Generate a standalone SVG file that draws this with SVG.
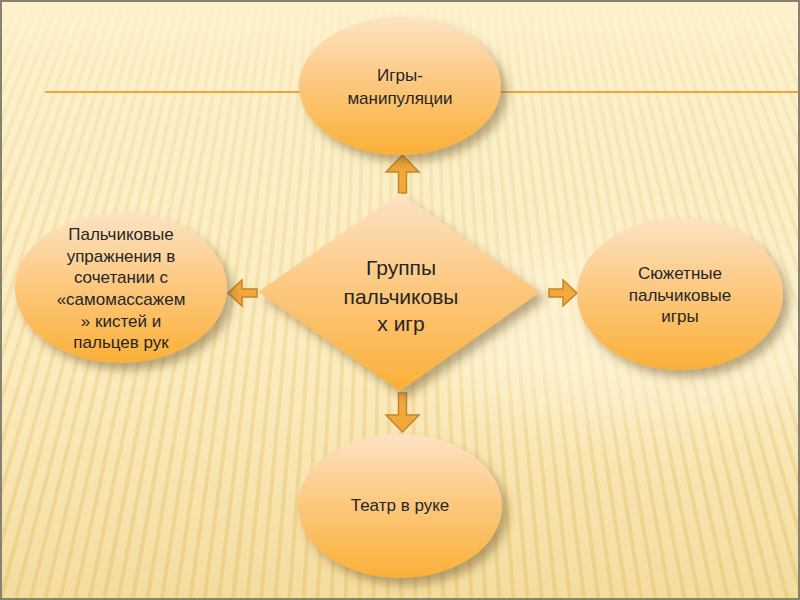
<svg xmlns="http://www.w3.org/2000/svg" width="800" height="600" viewBox="0 0 800 600">
  <defs>
    <linearGradient id="bg" x1="0" y1="0" x2="0" y2="1">
      <stop offset="0" stop-color="#fdf2cd"/>
      <stop offset="0.6" stop-color="#fbecc0"/>
      <stop offset="1" stop-color="#f4dc9e"/>
    </linearGradient>
    <linearGradient id="stripeFade" x1="0" y1="0" x2="0" y2="1">
      <stop offset="0" stop-color="#fff" stop-opacity="0"/>
      <stop offset="0.12" stop-color="#fff" stop-opacity="0.3"/>
      <stop offset="0.6" stop-color="#fff" stop-opacity="0.6"/>
      <stop offset="1" stop-color="#fff" stop-opacity="0.95"/>
    </linearGradient>
    <mask id="stripeMask" maskUnits="userSpaceOnUse" x="0" y="0" width="800" height="600">
      <rect x="0" y="0" width="800" height="600" fill="url(#stripeFade)"/>
    </mask>
    <linearGradient id="fillG" x1="0" y1="0" x2="0" y2="1">
      <stop offset="0" stop-color="#fde3c4"/>
      <stop offset="0.5" stop-color="#fcc77c"/>
      <stop offset="1" stop-color="#fbb038"/>
    </linearGradient>
    <filter id="shadow" x="-20%" y="-20%" width="150%" height="150%">
      <feDropShadow dx="6" dy="7" stdDeviation="5" flood-color="#6b5020" flood-opacity="0.45"/>
    </filter>
    <filter id="soft" x="-50%" y="-50%" width="200%" height="200%">
      <feGaussianBlur stdDeviation="30"/>
    </filter>
    <style>
      .shape { fill: url(#fillG); filter: url(#shadow); }
      .arrow { fill: #f2a83a; stroke: #c5842a; stroke-width: 1.5; stroke-linejoin: miter; }
      .t { font-family: "Liberation Sans", Arial, sans-serif; font-size: 17px; fill: #262626; text-anchor: middle; }
      .tc { font-family: "Liberation Sans", Arial, sans-serif; font-size: 21px; fill: #262626; text-anchor: middle; }
    </style>
  </defs>

  <!-- background -->
  <rect x="0" y="0" width="800" height="600" fill="url(#bg)"/>
  <g mask="url(#stripeMask)">
    <circle cx="400" cy="-900" r="1200" fill="none" stroke="#e6c575" stroke-opacity="0.55" stroke-width="760" stroke-dasharray="4 7.2"/>
  </g>
  <ellipse cx="640" cy="330" rx="220" ry="90" fill="#fff8e0" opacity="0.5" filter="url(#soft)"/>
  <line x1="45" y1="92" x2="800" y2="92" stroke="#eea63a" stroke-width="2.2"/>
  <rect x="1" y="1" width="798" height="598" fill="none" stroke="#85826f" stroke-width="2"/>

  <!-- connectors -->
  <g id="connectors">
    <path class="arrow" d="M398.5 193 V172 H386 L402.5 155 L419 172 H406.5 V193 Z"/>
    <path class="arrow" d="M398.5 393 V415 H386 L402.5 432 L419 415 H406.5 V393 Z"/>
    <path class="arrow" d="M257 289 H242 V280 L228 293 L242 306 V297 H257 Z"/>
    <path class="arrow" d="M549 289 H563 V280 L577 293 L563 306 V297 H549 Z"/>
  </g>

  <!-- nodes -->
  <g id="node-center">
    <polygon class="shape" points="400,193 540,292 400,391 258,292"/>
    <text class="tc" x="401" y="275">Группы</text>
    <text class="tc" x="401" y="304">пальчиковы</text>
    <text class="tc" x="401" y="331">х игр</text>
  </g>
  <g id="node-top">
    <ellipse class="shape" cx="400" cy="86" rx="101" ry="69"/>
    <text class="t" x="400" y="81">Игры-</text>
    <text class="t" x="400" y="104">манипуляции</text>
  </g>
  <g id="node-left">
    <ellipse class="shape" cx="121" cy="288" rx="106" ry="75"/>
    <text class="t" x="121" y="240">Пальчиковые</text>
    <text class="t" x="121" y="262">упражнения в</text>
    <text class="t" x="121" y="283">сочетании с</text>
    <text class="t" x="121" y="305">«самомассажем</text>
    <text class="t" x="121" y="327">» кистей и</text>
    <text class="t" x="121" y="348">пальцев рук</text>
  </g>
  <g id="node-right">
    <ellipse class="shape" cx="680" cy="294" rx="103" ry="76"/>
    <text class="t" x="680" y="279">Сюжетные</text>
    <text class="t" x="680" y="301">пальчиковые</text>
    <text class="t" x="680" y="322">игры</text>
  </g>
  <g id="node-bottom">
    <ellipse class="shape" cx="400" cy="506" rx="102" ry="72"/>
    <text class="t" x="400" y="511">Театр в руке</text>
  </g>
</svg>
